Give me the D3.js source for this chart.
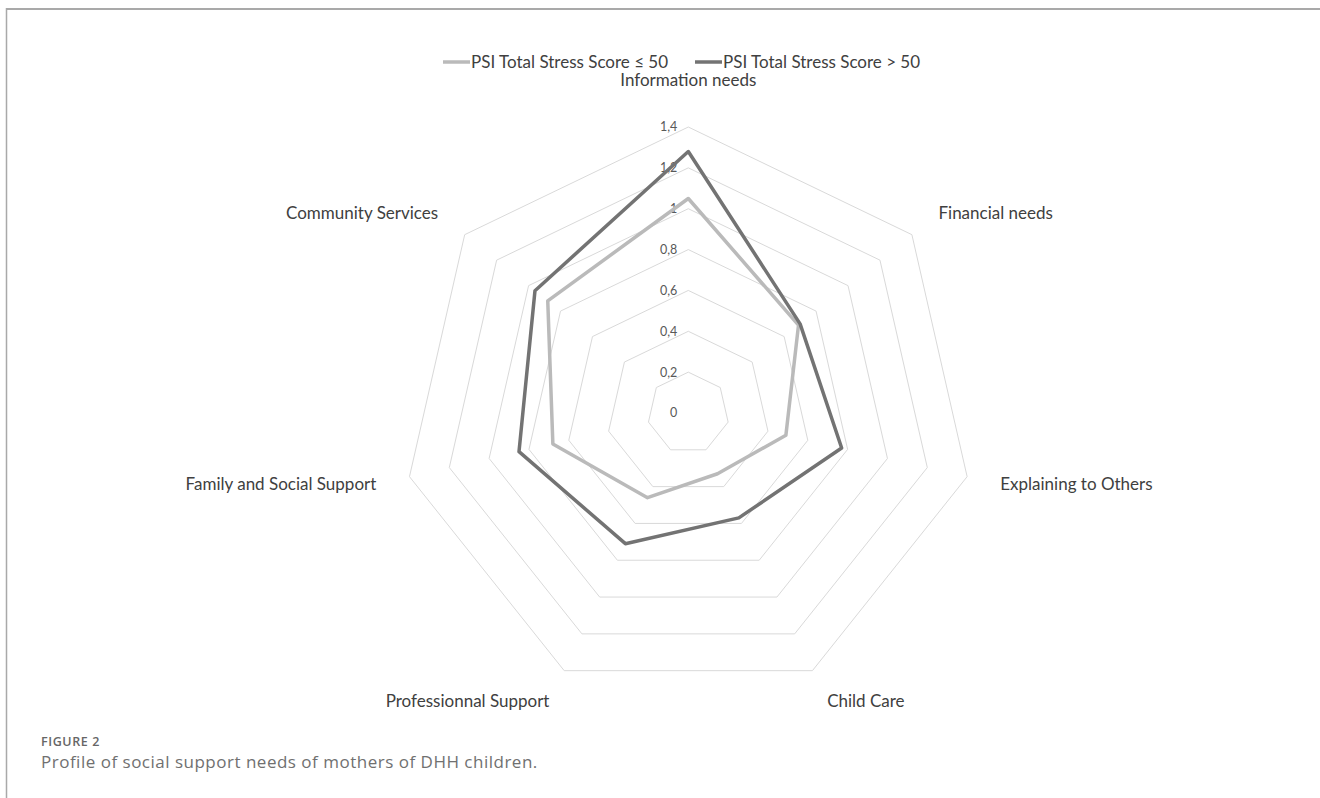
<!DOCTYPE html>
<html>
<head>
<meta charset="utf-8">
<script src="https://cdn.jsdelivr.net/npm/d3@7"></script>
<style>
  body { margin: 0; background: #fff; }
  svg { display: block; }
</style>
</head>
<body>
<svg id="chart"></svg>
<script>
// radar chart - social support needs by PSI stress group

const categories = ["Information needs", "Financial needs", "Explaining to Others", "Child Care",
  "Professionnal Support", "Family and Social Support", "Community Services"];
const lowStress = [1.05, 0.69, 0.49, 0.33, 0.46, 0.68, 0.88];
const highStress = [1.28, 0.70, 0.77, 0.57, 0.71, 0.85, 0.96];
const seriesNames = ["PSI Total Stress Score \u2264 50", "PSI Total Stress Score > 50"];
const tickValues = [0, 0.2, 0.4, 0.6, 0.8, 1, 1.2, 1.4];
const tickLabels = ["0", "0,2", "0,4", "0,6", "0,8", "1", "1,2", "1,4"];

const W = 1320, H = 798;
const cx = 688.3, cy = 413;
const outerR = 286;
const font = "Lato, 'Open Sans', sans-serif";

const svg = d3.select("#chart").attr("width", W).attr("height", H);

// frame lines (top + left)
svg.append("line").attr("x1", 6.5).attr("x2", W).attr("y1", 9).attr("y2", 9)
  .attr("stroke", "#a9a9a9").attr("stroke-width", 2);
svg.append("line").attr("x1", 6.5).attr("x2", 6.5).attr("y1", 8).attr("y2", H)
  .attr("stroke", "#a9a9a9").attr("stroke-width", 1.5);

// scales
const rScale = d3.scaleLinear().domain([0, 1.4]).range([0, outerR]);
const aScale = d3.scaleLinear().domain([0, categories.length]).range([0, 2 * Math.PI]);

const g = svg.append("g").attr("transform", `translate(${cx},${cy})`);

// grid rings (heptagons)
const ring = d3.lineRadial()
  .angle((d, i) => aScale(i))
  .radius(d => rScale(d))
  .curve(d3.curveLinearClosed);

g.append("g").selectAll("path")
  .data(tickValues.filter(v => v > 0))
  .enter()
  .append("path")
  .attr("d", v => ring(categories.map(() => v)))
  .attr("fill", "none")
  .attr("stroke", "#d9d9d9")
  .attr("stroke-width", 1);

// tick labels on the vertical axis
g.append("g").selectAll("text")
  .data(tickValues)
  .enter()
  .append("text")
  .attr("x", -11)
  .attr("y", d => -rScale(d))
  .attr("dy", "0.35em")
  .attr("text-anchor", "end")
  .attr("font-family", font)
  .attr("font-size", "12.5px")
  .attr("fill", "#595959")
  .text((d, i) => tickLabels[i]);

// series lines
const series = [
  { name: seriesNames[0], values: lowStress, color: "#bababa" },
  { name: seriesNames[1], values: highStress, color: "#737373" }
];

const line = d3.lineRadial()
  .angle((d, i) => aScale(i))
  .radius(d => rScale(d))
  .curve(d3.curveLinearClosed);

g.append("g").selectAll("path")
  .data(series)
  .enter()
  .append("path")
  .attr("d", s => line(s.values))
  .attr("fill", "none")
  .attr("stroke", s => s.color)
  .attr("stroke-width", 3.5)
  .attr("stroke-linejoin", "round");

// category labels around the outside
const labelR = outerR + 34;
g.append("g").selectAll("text")
  .data(categories)
  .enter()
  .append("text")
  .attr("x", (d, i) => labelR * Math.sin(aScale(i)))
  .attr("y", (d, i) => {
    let y = -labelR * Math.cos(aScale(i));
    // top label sits above the ring
    if (Math.abs(Math.sin(aScale(i))) < 0.01) y -= 13;
    return y;
  })
  .attr("dy", "0.35em")
  .attr("text-anchor", (d, i) => {
    const s = Math.sin(aScale(i));
    if (Math.abs(s) < 0.01) return "middle";
    return s > 0 ? "start" : "end";
  })
  .attr("font-family", font)
  .attr("font-size", "17px")
  .attr("fill", "#404040")
  .text(d => d);

// legend
const legend = svg.append("g").attr("transform", "translate(443, 62)");
const legendX = [0, 252];
series.forEach((s, i) => {
  const lg = legend.append("g").attr("transform", `translate(${legendX[i]},0)`);
  lg.append("line")
    .attr("x1", 0).attr("x2", 27).attr("y1", 0).attr("y2", 0)
    .attr("stroke", s.color).attr("stroke-width", 3.5);
  lg.append("text")
    .attr("x", 28)
    .attr("dy", "0.35em")
    .attr("font-family", font)
    .attr("font-size", "17px")
    .attr("fill", "#404040")
    .text(s.name);
});

// figure caption
svg.append("text")
  .attr("x", 41).attr("y", 746)
  .attr("font-family", "'Open Sans', sans-serif")
  .attr("font-weight", "600")
  .attr("font-size", "12.5px")
  .attr("letter-spacing", "0.6px")
  .attr("fill", "#666")
  .text("FIGURE 2");
svg.append("text")
  .attr("x", 41).attr("y", 768)
  .attr("font-family", "'Open Sans', sans-serif")
  .attr("font-size", "17px")
  .attr("letter-spacing", "0.5px")
  .attr("fill", "#707070")
  .text("Profile of social support needs of mothers of DHH children.");
</script>
</body>
</html>
